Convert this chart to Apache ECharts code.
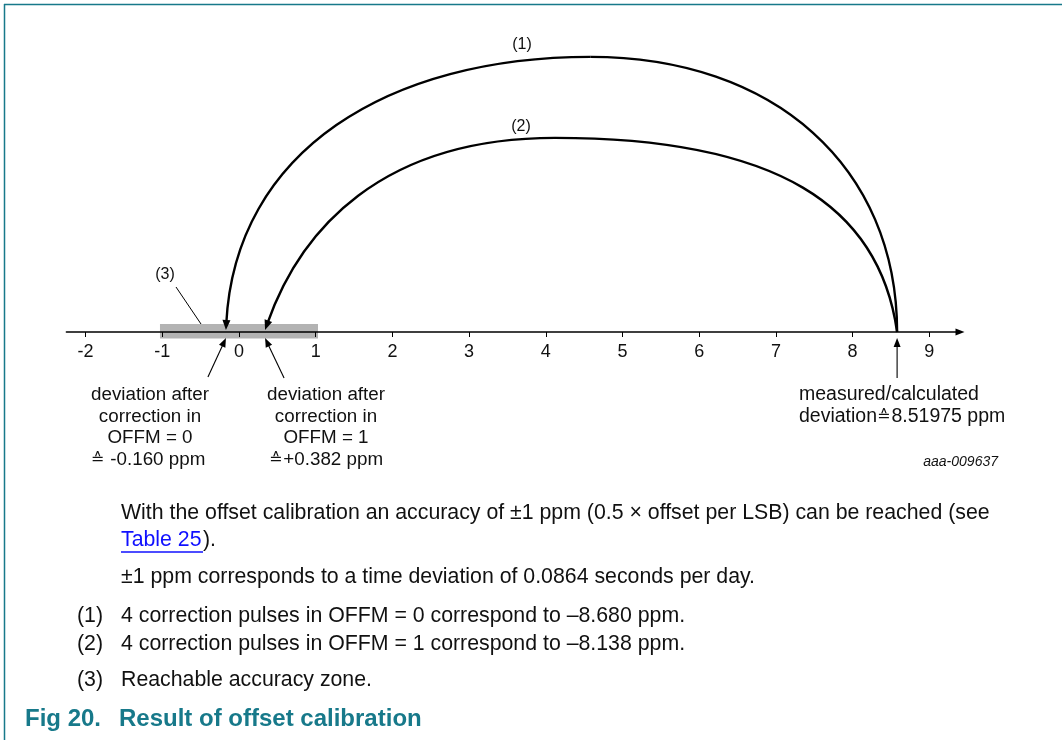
<!DOCTYPE html>
<html><head><meta charset="utf-8">
<script src="https://cdn.jsdelivr.net/npm/echarts@6/dist/echarts.min.js"></script>
<style>html,body{margin:0;padding:0;background:#fff}#c{width:1062px;height:740px}</style>
</head><body><div id="c"></div>
<script>
// ---------- data ----------
const tickValues = [-2, -1, 0, 1, 2, 3, 4, 5, 6, 7, 8, 9];
const measuredDeviation = 8.58;          // where the measured arrow sits on the axis
const arcLabels = ['(1)', '(2)'];
const arcEndX = [-0.17, 0.34];           // deviation after correction (arrow tips)
const arcPeakX = [4.58, 4.12];           // x of arc top
const arcPeakH = [9.17, 6.47];           // height of arc top (hidden y scale 0..10)
const zoneRange = [-1.03, 1.03];         // reachable accuracy zone (3)

// ---------- styles ----------
const FONT = '"Liberation Sans", Arial, sans-serif';
const TEAL = '#17798a';
const arcShape = [
  { rk1: 0.60, rk2: 0.60, rTilt: 0.00, lk1: 0.55, lk2: 0.66, lTilt: 0.05 },
  { rk1: 0.65, rk2: 0.65, rTilt: 0.14, lk1: 0.60, lk2: 0.52, lTilt: 0.35 }
];
const annotTail = [[-18, 39], [19, 40], [0, 40]];

const chart = echarts.init(document.getElementById('c'));

function arrowHead(tip, dir, len, half) {
  const bx = tip[0] - dir[0] * len, by = tip[1] - dir[1] * len;
  const nx = -dir[1], ny = dir[0];
  return {
    type: 'polygon',
    shape: { points: [tip, [bx + nx * half, by + ny * half], [bx - nx * half, by - ny * half]] },
    style: { fill: '#000' }
  };
}
function norm(dx, dy) { const l = Math.hypot(dx, dy); return [dx / l, dy / l]; }

const arcData = arcEndX.map((x, i) => [measuredDeviation, x, arcPeakX[i], arcPeakH[i]]);
const annotData = arcEndX.concat([measuredDeviation]).map(v => [v, 0]);

const RICH = { s: { font: '16px "DejaVu Sans", sans-serif', fill: '#111', padding: [0, 1, 0, 0] } };
function tline(x, y, text, opt) {
  return {
    type: 'text', x: x, y: y,
    style: Object.assign({ text: text, font: '18.8px ' + FONT, fill: '#111', textAlign: 'center', textVerticalAlign: 'middle', rich: RICH }, opt || {})
  };
}
const BODY = '21.3px ' + FONT;

const graphics = [
  { type: 'line', shape: { x1: 4, y1: 4.5, x2: 1062, y2: 4.5 }, style: { stroke: TEAL, lineWidth: 1.5 } },
  { type: 'line', shape: { x1: 4.5, y1: 4, x2: 4.5, y2: 740 }, style: { stroke: TEAL, lineWidth: 1.5 } },
  tline(522, 45, arcLabels[0], { font: '16px ' + FONT }),
  tline(521, 127, arcLabels[1], { font: '16px ' + FONT }),
  tline(165, 275, '(3)', { font: '16px ' + FONT }),
  { type: 'line', shape: { x1: 176, y1: 287, x2: 201, y2: 324 }, style: { stroke: '#000', lineWidth: 1 } },
  tline(150, 395, 'deviation after'),
  tline(150, 416.5, 'correction in'),
  tline(150, 438, 'OFFM = 0'),
  tline(148, 460, '{s|\u2259} -0.160 ppm'),
  tline(326, 395, 'deviation after'),
  tline(326, 416.5, 'correction in'),
  tline(326, 438, 'OFFM = 1'),
  tline(326, 460, '{s|\u2259}+0.382 ppm'),
  tline(799, 395, 'measured/calculated', { textAlign: 'left', font: '19.5px ' + FONT }),
  tline(799, 416.5, 'deviation{s|\u2259}8.51975 ppm', { textAlign: 'left', font: '19.5px ' + FONT }),
  tline(998, 462, 'aaa-009637', { textAlign: 'right', font: 'italic 14px ' + FONT }),
  tline(121, 513, 'With the offset calibration an accuracy of \u00b11 ppm (0.5 \u00d7 offset per LSB) can be reached (see', { textAlign: 'left', font: BODY }),
  tline(121, 540, 'Table 25', { textAlign: 'left', font: BODY, fill: '#1010ff' }),
  tline(203, 540, ').', { textAlign: 'left', font: BODY }),
  { type: 'line', shape: { x1: 121, y1: 552, x2: 203, y2: 552 }, style: { stroke: '#1010ff', lineWidth: 1.3 } },
  tline(121, 577, '\u00b11 ppm corresponds to a time deviation of 0.0864 seconds per day.', { textAlign: 'left', font: BODY }),
  tline(77, 616, '(1)', { textAlign: 'left', font: BODY }),
  tline(121, 616, '4 correction pulses in OFFM = 0 correspond to \u20138.680 ppm.', { textAlign: 'left', font: BODY }),
  tline(77, 644, '(2)', { textAlign: 'left', font: BODY }),
  tline(121, 644, '4 correction pulses in OFFM = 1 correspond to \u20138.138 ppm.', { textAlign: 'left', font: BODY }),
  tline(77, 680, '(3)', { textAlign: 'left', font: BODY }),
  tline(121, 680, 'Reachable accuracy zone.', { textAlign: 'left', font: BODY }),
  tline(25, 719, 'Fig 20.', { textAlign: 'left', font: 'bold 24px ' + FONT, fill: TEAL }),
  tline(119, 719, 'Result of offset calibration', { textAlign: 'left', font: 'bold 24px ' + FONT, fill: TEAL })
];

const option = {
  animation: false,
  grid: { left: 66.4, right: 102, top: 32, bottom: 408 },
  xAxis: {
    type: 'value', min: -2.25, max: 9.4, z: 5,
    axisLine: { show: true, onZero: false, symbol: ['none', 'triangle'], symbolSize: [7, 9], lineStyle: { color: '#000', width: 1.5 } },
    axisTick: { show: true, customValues: tickValues, length: 5, lineStyle: { color: '#000', width: 1 } },
    axisLabel: { customValues: tickValues, margin: 11, fontSize: 18, color: '#111', fontFamily: FONT },
    splitLine: { show: false }
  },
  yAxis: { type: 'value', min: 0, max: 10, show: false },
  series: [
    {
      type: 'custom', z: 1, silent: true,
      data: [zoneRange],
      encode: { x: [0, 1] },
      renderItem(params, api) {
        const a = api.coord([api.value(0), 0]);
        const b = api.coord([api.value(1), 0]);
        return { type: 'rect', shape: { x: a[0], y: a[1] - 8, width: b[0] - a[0], height: 14.5 }, style: { fill: '#b3b3b3' } };
      }
    },
    {
      type: 'custom', z: 3, silent: true,
      data: arcData,
      encode: { x: [0, 1, 2], y: 3 },
      renderItem(params, api) {
        const s = arcShape[params.dataIndex];
        const p0 = api.coord([api.value(0), 0]);
        const pk = api.coord([api.value(2), api.value(3)]);
        const tip = api.coord([api.value(1), 0]);
        tip[1] -= 2;
        const H = p0[1] - pk[1], W = p0[0] - pk[0];
        const r1 = [p0[0] - s.rTilt * s.rk1 * H, p0[1] - s.rk1 * H];
        const r2 = [pk[0] + s.rk2 * W, pk[1]];
        const H2 = tip[1] - pk[1], W2 = pk[0] - tip[0];
        const l1 = [pk[0] - s.lk1 * W2, pk[1]];
        const l2 = [tip[0] + s.lTilt * s.lk2 * H2, tip[1] - s.lk2 * H2];
        const dir = norm(tip[0] - l2[0], tip[1] - l2[1]);
        const end = [tip[0] - dir[0] * 6, tip[1] - dir[1] * 6];
        const st = { stroke: '#000', lineWidth: 2.4, fill: null };
        return {
          type: 'group', children: [
            { type: 'bezierCurve', shape: { x1: p0[0], y1: p0[1], cpx1: r1[0], cpy1: r1[1], cpx2: r2[0], cpy2: r2[1], x2: pk[0], y2: pk[1] }, style: st },
            { type: 'bezierCurve', shape: { x1: pk[0], y1: pk[1], cpx1: l1[0], cpy1: l1[1], cpx2: l2[0], cpy2: l2[1], x2: end[0], y2: end[1] }, style: st },
            arrowHead(tip, dir, 10, 4)
          ]
        };
      }
    },
    {
      type: 'custom', z: 3, silent: true,
      data: annotData,
      encode: { x: 0, y: 1 },
      renderItem(params, api) {
        const p = api.coord([api.value(0), 0]);
        const tip = [p[0], p[1] + 6];
        const off = annotTail[params.dataIndex];
        const tail = [tip[0] + off[0], tip[1] + off[1]];
        const dir = norm(tip[0] - tail[0], tip[1] - tail[1]);
        return {
          type: 'group', children: [
            { type: 'line', shape: { x1: tail[0], y1: tail[1], x2: tip[0] - dir[0] * 6, y2: tip[1] - dir[1] * 6 }, style: { stroke: '#000', lineWidth: 1.1 } },
            arrowHead(tip, dir, 9, 3.5)
          ]
        };
      }
    }
  ],
  graphic: graphics
};
chart.setOption(option);
</script></body></html>
